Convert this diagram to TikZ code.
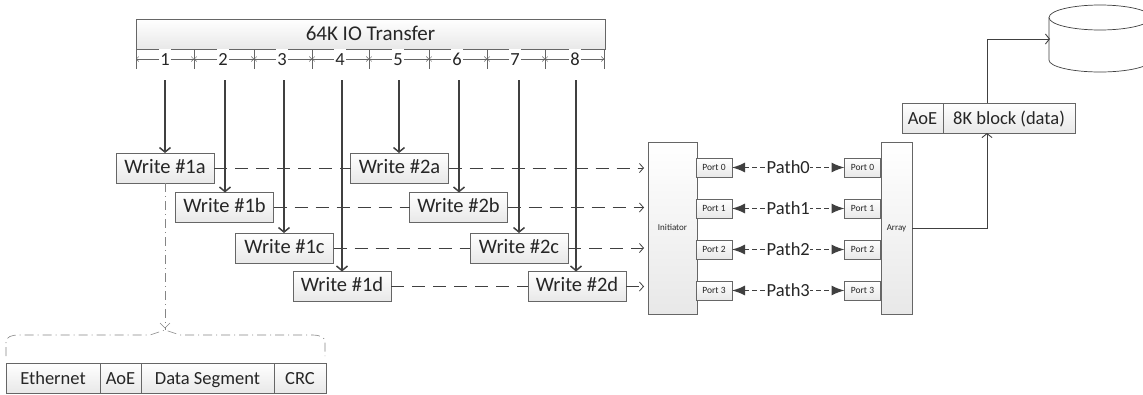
\documentclass[tikz,border=0pt]{standalone}
\usepackage{fontspec}
\setmainfont{Carlito}
\usetikzlibrary{arrows.meta,shadows,calc}
\definecolor{ink}{HTML}{404040}
\definecolor{edge}{HTML}{666666}
\definecolor{txt}{HTML}{262626}
\tikzset{
  x=1pt,y=-1pt,
  shapebox/.style={draw=edge,line width=0.8pt,top color=white,bottom color=black!9,text=txt,
    inner sep=0pt,outer sep=0pt,anchor=center,text depth=0pt,
    drop shadow={shadow xshift=0.8pt,shadow yshift=-0.8pt,fill=black,opacity=0.18}},
  writebox/.style={shapebox,minimum width=98pt,minimum height=30pt,text height=13pt,text depth=3pt,font=\fontsize{20.5}{24}\selectfont},
  portbox/.style={shapebox,minimum width=36pt,minimum height=19pt,text height=6pt,font=\fontsize{9.5}{11}\selectfont},
  tallbox/.style={shapebox,minimum height=172pt,text height=5.8pt,font=\fontsize{9}{11}\selectfont},
  cellbox/.style={shapebox,minimum height=30pt,text height=12pt,font=\fontsize{18.5}{20}\selectfont},
  hcell/.style={shapebox,minimum height=30pt,text height=12pt,font=\fontsize{18.5}{20}\selectfont},
  titlecell/.style={shapebox,minimum height=30pt,text height=14pt,text depth=1pt,font=\fontsize{21}{24}\selectfont},
  feed/.style={draw=ink,line width=1.8pt,-{Straight Barb[length=4.5pt,width=11pt,line width=1.5pt]}},
  sendline/.style={draw=ink,line width=0.9pt,dash pattern=on 13pt off 8pt},
  sendtip/.style={draw=ink,line width=0.9pt,dash pattern=on 13pt off 8pt,
    -{Straight Barb[length=4pt,width=9pt,line width=0.8pt]},shorten >=4pt},
  pathline/.style={draw=ink,line width=1.4pt,dash pattern=on 5pt off 3pt,
    {Latex[length=13pt,width=10pt]}-{Latex[length=13pt,width=10pt]}},
  pathlabel/.style={fill=white,inner sep=0.5pt,text=txt,font=\fontsize{18.5}{20}\selectfont},
  dimline/.style={draw=edge,line width=0.5pt,
    {Straight Barb[length=2.5pt,width=5pt,line width=0.4pt]}-{Straight Barb[length=2.5pt,width=5pt,line width=0.4pt]}},
  tickline/.style={draw=edge,line width=0.6pt},
  dimlabel/.style={fill=white,text=txt,inner xsep=1.5pt,inner ysep=0pt,minimum height=21pt,text height=12pt,text depth=0pt,font=\fontsize{18.5}{20}\selectfont},
  plainline/.style={draw=ink,line width=0.9pt},
  openarrow/.style={plainline,-{Straight Barb[length=4pt,width=10pt,line width=0.9pt]}},
  bracket/.style={draw=edge!80,line width=0.6pt,dash pattern=on 9pt off 4pt on 1pt off 4pt},
  diskline/.style={draw=ink,line width=0.7pt},
}
\begin{document}
\begin{tikzpicture}
\useasboundingbox[clip] (0,0) rectangle (1143,394);
% transfer bar
\node[titlecell,minimum width=469pt] (bar) at (370.5,34) {64K IO Transfer};
% ruler ticks
\foreach \n/\tx in {0/136,1/194,2/254,3/312,4/369,5/429,6/487,7/545,8/604}{
  \coordinate (tu\n) at (\tx,49);
  \coordinate (tm\n) at (\tx,59);
  \coordinate (td\n) at (\tx,69);
  \draw[tickline] (tu\n) -- (td\n);
}
\foreach \a/\b/\lab/\lx in {0/1/1/165,1/2/2/223,2/3/3/282,3/4/4/340,4/5/5/398,5/6/6/457,6/7/7/515,7/8/8/575}{
  \draw[dimline] (tm\a) -- (tm\b);
  \node[dimlabel] (lab\lab) at (\lx,59) {\lab};
}
% write boxes
\node[writebox] (wa) at (165,168) {Write \#1a};
\node[writebox] (wb) at (224.5,207.5) {Write \#1b};
\node[writebox] (wc) at (284.5,248) {Write \#1c};
\node[writebox] (wd) at (342,286.5) {Write \#1d};
\node[writebox] (xa) at (399.5,168) {Write \#2a};
\node[writebox] (xb) at (458.5,207.5) {Write \#2b};
\node[writebox] (xc) at (519,248) {Write \#2c};
\node[writebox] (xd) at (577,286.5) {Write \#2d};
% initiator, array, ports
\node[tallbox,minimum width=49pt] (init) at (672.5,228) {Initiator};
\node[tallbox,minimum width=31pt] (arr) at (896.5,228) {Array};
\foreach \i/\py in {0/167.5,1/208.5,2/249.5,3/290.5}{
  \node[portbox] (pi\i) at (714,\py) {Port \i};
  \node[portbox] (pt\i) at (862.5,\py) {Port \i};
  \draw[pathline] (pi\i) -- node[pathlabel] (pl\i) {Path\i} (pt\i);
}
% sends
\draw[sendline] (wa) -- (xa);
\draw[sendline] (wb) -- (xb);
\draw[sendline] (wc) -- (xc);
\draw[sendline] (wd) -- (xd);
\draw[sendtip] (xa) -- (xa -| init.west);
\draw[sendtip] (xb) -- (xb -| init.west);
\draw[sendtip] (xc) -- (xc -| init.west);
\draw[sendtip] (xd) -- (xd -| init.west);
% feed arrows
\foreach \n/\sx/\target in {1/165/wa,2/225/wb,3/284/wc,4/342/wd,5/399/xa,6/459/xb,7/519/xc,8/576/xd}{
  \coordinate (s\n) at (\sx,80);
  \draw[feed] (s\n) -- (s\n |- \target.north);
}
% block
\node[hcell,minimum width=41pt] (aoeb) at (922.5,118) {AoE};
\node[hcell,minimum width=132pt] (blk) at (1009,118) {8K block (data)};
\draw[openarrow] (arr.east) -| ($(blk.south)+(-22,0)$);
% disk
\filldraw[diskline,fill=white] (1049,17.5) -- (1049,60) arc[start angle=180,end angle=360,x radius=51pt,y radius=12pt] -- (1151,17.5);
\draw[diskline] (1100,17.5) ellipse[x radius=51pt,y radius=12.5pt];
\coordinate (diskin) at (1050,39);
\draw[openarrow] ($(blk.north)+(-22,0)$) |- (diskin);
% frame
\node[cellbox,minimum width=94pt] (f1) at (53,378) {Ethernet};
\node[cellbox,minimum width=41pt] (f2) at (120.5,378) {AoE};
\node[cellbox,minimum width=133pt] (f3) at (207.5,378) {Data Segment};
\node[cellbox,minimum width=52pt] (f4) at (300,378) {CRC};
\coordinate (peak) at (165,330);
\draw[bracket] (wa.south) -- (peak);
\draw[edge!80,line width=0.6pt] (160,323) -- (165,328) -- (170,323);
\draw[bracket] (f1.north west |- 0,356) -- (6,342) to[out=90,in=180] (18,335) -- (150,335) -- (peak)
  -- (180,335) -- (313,335) to[out=0,in=90] (325,342) -- (325,356);
\end{tikzpicture}
\end{document}
